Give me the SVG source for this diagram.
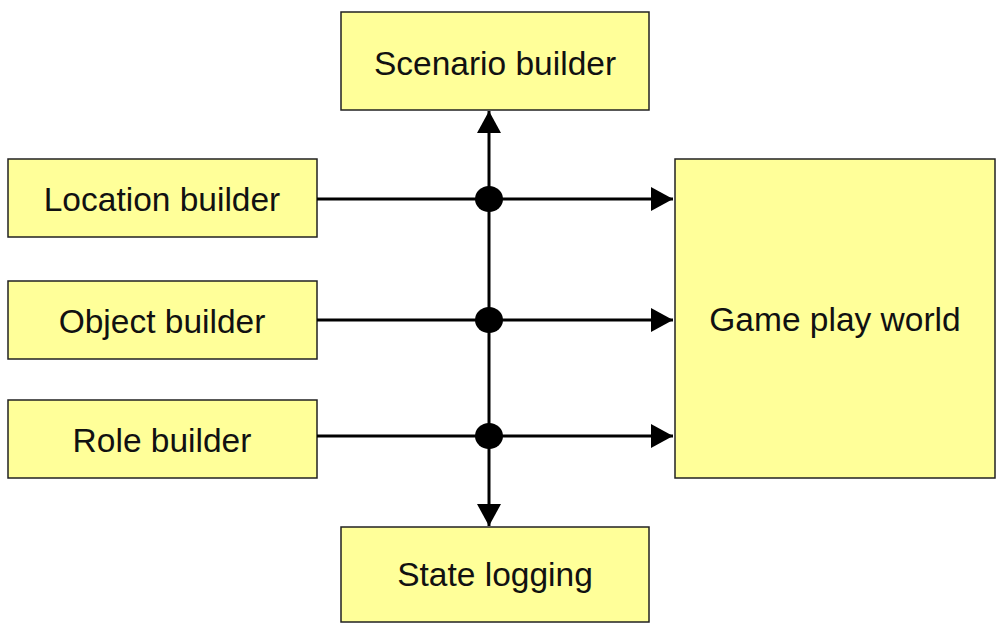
<svg xmlns="http://www.w3.org/2000/svg" width="997" height="624" viewBox="0 0 997 624">
  <style>
    .box { fill: #ffff99; stroke: #222222; stroke-width: 1.5; }
    .label { font-family: "Liberation Sans", Arial, sans-serif; font-size: 33.5px; fill: #111111; text-anchor: middle; }
    .wire { stroke: #000000; stroke-width: 3; fill: none; }
    .joint { fill: #000000; }
  </style>
  <defs>
    <marker id="arrow" viewBox="0 0 22 24" refX="22" refY="12" markerWidth="22" markerHeight="24" markerUnits="userSpaceOnUse" orient="auto">
      <path d="M0,0 L22,12 L0,24 Z" fill="#000000"/>
    </marker>
  </defs>
  <rect width="997" height="624" fill="#ffffff"/>

  <g id="scenario-builder">
    <rect class="box" x="341" y="12" width="308" height="98"/>
    <text class="label" x="495" y="75">Scenario builder</text>
  </g>
  <g id="location-builder">
    <rect class="box" x="8" y="159" width="309" height="78"/>
    <text class="label" x="162" y="211">Location builder</text>
  </g>
  <g id="object-builder">
    <rect class="box" x="8" y="281" width="309" height="78"/>
    <text class="label" x="162" y="333">Object builder</text>
  </g>
  <g id="role-builder">
    <rect class="box" x="8" y="400" width="309" height="78"/>
    <text class="label" x="162" y="452">Role builder</text>
  </g>
  <g id="game-play-world">
    <rect class="box" x="675" y="159" width="320" height="319"/>
    <text class="label" x="835" y="331">Game play world</text>
  </g>
  <g id="state-logging">
    <rect class="box" x="341" y="527" width="308" height="95"/>
    <text class="label" x="495" y="586">State logging</text>
  </g>

  <g id="connectors">
    <!-- builders feed the world through the shared bus -->
    <line class="wire" x1="317" y1="199" x2="673" y2="199" marker-end="url(#arrow)"/>
    <line class="wire" x1="317" y1="320" x2="673" y2="320" marker-end="url(#arrow)"/>
    <line class="wire" x1="317" y1="436" x2="673" y2="436" marker-end="url(#arrow)"/>
    <!-- vertical bus: up to scenario builder, down to state logging -->
    <line class="wire" x1="489" y1="320" x2="489" y2="111" marker-end="url(#arrow)"/>
    <line class="wire" x1="489" y1="320" x2="489" y2="526" marker-end="url(#arrow)"/>
    <ellipse class="joint" cx="489" cy="199" rx="14" ry="13"/>
    <ellipse class="joint" cx="489" cy="320" rx="14" ry="13"/>
    <ellipse class="joint" cx="489" cy="436" rx="14" ry="13"/>
  </g>
</svg>
